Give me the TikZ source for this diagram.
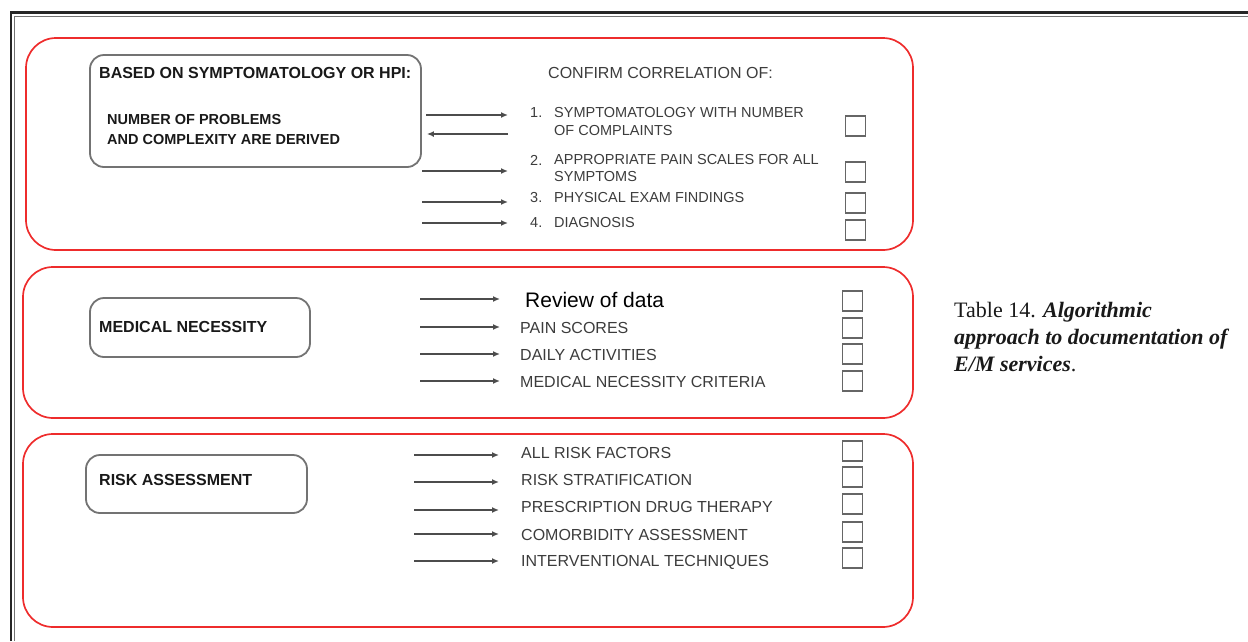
\documentclass[tikz,border=0pt]{standalone}
\usepackage{fontspec}
\setmainfont{Liberation Sans}
\newfontfamily\capserif{Liberation Serif}
\usepackage{xcolor}
\usepackage{tikz}
\usetikzlibrary{arrows.meta,positioning}

\definecolor{framered}{HTML}{EE2C2C}
\definecolor{inkgray}{HTML}{3C3C3C}

\tikzset{
  redbox/.style={draw=framered, line width=1.7pt, rounded corners=30pt},
  graybox/.style={draw=black!55, line width=1.8pt, rounded corners=14pt, inner sep=0pt},
  arr/.style={-{Latex[length=7pt,width=6pt]}, line width=1.8pt, draw=black!70},
  chk/.style={draw=black!60, line width=1.3pt, minimum width=20pt, minimum height=20pt, inner sep=0pt},
  lbl/.style={anchor=west, inner sep=0pt, text=black!90, font=\fontsize{16}{19}\selectfont\bfseries},
  listtxt/.style={anchor=west, inner sep=0pt, text=inkgray, font=\fontsize{16}{19}\selectfont},
  smalltxt/.style={listtxt, font=\fontsize{14.5}{18}\selectfont},
}

\begin{document}
\begin{tikzpicture}[x=1pt, y=-1pt]
  \useasboundingbox (0,0) rectangle (1248,641);
  % outer frame
  \draw[line width=2.2pt, black!85] (11,641) -- (11,12.5) -- (1248,12.5);
  \draw[line width=1.2pt, black!55] (14.5,641) -- (14.5,16.5) -- (1248,16.5);

  % block 1
  \draw[redbox] (26,38) rectangle (913,250);
  \node[graybox, minimum width=331pt, minimum height=112pt] (hpi) at (255.5,111) {};
  \node[lbl] (hpihead) at (99,73) {BASED ON SYMPTOMATOLOGY OR HPI:};
  \node[lbl, font=\fontsize{14.5}{20}\selectfont\bfseries, align=left] (hpibody) at (107,130)
    {NUMBER OF PROBLEMS\\AND COMPLEXITY ARE DERIVED};
  \node[listtxt] (confirm) at (548,73) {CONFIRM CORRELATION OF:};
  \node[smalltxt] (n1) at (530,113) {1.};
  \node[smalltxt] (n2) at (530,160) {2.};
  \node[smalltxt] (n3) at (530,198) {3.};
  \node[smalltxt] (n4) at (530,223) {4.};
  \node[smalltxt, align=left] (s1) at (554,122) {SYMPTOMATOLOGY WITH NUMBER\\OF COMPLAINTS};
  \node[smalltxt, align=left, font=\fontsize{14.5}{17}\selectfont] (s2) at (554,168.5) {APPROPRIATE PAIN SCALES FOR ALL\\SYMPTOMS};
  \node[smalltxt] (s3) at (554,198) {PHYSICAL EXAM FINDINGS};
  \node[smalltxt] (s4) at (554,223) {DIAGNOSIS};
  \node[chk] (c1) at (855.5,126) {};
  \node[chk] (c2) at (855.5,172) {};
  \node[chk] (c3) at (855.5,203) {};
  \node[chk] (c4) at (855.5,230) {};
  \coordinate (t1) at (426,115);
  \coordinate (r1) at (508,134);
  \coordinate (t2) at (422,171);
  \coordinate (t3) at (422,202);
  \coordinate (t4) at (422,223);
  \draw[arr, shorten >=22pt] (t1) -- (t1 -| n1.west);
  \draw[arr, shorten >=5pt] (r1) -- (r1 -| hpi.east);
  \draw[arr, shorten >=22pt] (t2) -- (t2 -| n2.west);
  \draw[arr, shorten >=22pt] (t3) -- (t3 -| n3.west);
  \draw[arr, shorten >=22pt] (t4) -- (t4 -| n4.west);

  % block 2
  \draw[redbox] (23,267) rectangle (913,418);
  \node[graybox, minimum width=220pt, minimum height=59pt] (need) at (200,327.5) {};
  \node[lbl] (needlbl) at (99,327) {MEDICAL NECESSITY};
  \node[listtxt, text=black, font=\fontsize{21}{24}\selectfont] (rev) at (525,300) {Review of data};
  \node[listtxt] (pain) at (520,328) {PAIN SCORES};
  \node[listtxt] (daily) at (520,355) {DAILY ACTIVITIES};
  \node[listtxt] (crit) at (520,382) {MEDICAL NECESSITY CRITERIA};
  \node[chk] (c5) at (852.5,301) {};
  \node[chk] (c6) at (852.5,328) {};
  \node[chk] (c7) at (852.5,354) {};
  \node[chk] (c8) at (852.5,381) {};
  \coordinate (t5) at (420,299);
  \coordinate (t6) at (420,327);
  \coordinate (t7) at (420,354);
  \coordinate (t8) at (420,381);
  \draw[arr, shorten >=25pt] (t5) -- (t5 -| rev.west);
  \draw[arr, shorten >=20pt] (t6) -- (t6 -| pain.west);
  \draw[arr, shorten >=20pt] (t7) -- (t7 -| daily.west);
  \draw[arr, shorten >=20pt] (t8) -- (t8 -| crit.west);

  % block 3
  \draw[redbox] (23,434) rectangle (913,627);
  \node[graybox, minimum width=221pt, minimum height=58pt] (risk) at (196.5,484) {};
  \node[lbl] (risklbl) at (99,480) {RISK ASSESSMENT};
  \node[listtxt] (fac) at (521,453) {ALL RISK FACTORS};
  \node[listtxt] (strat) at (521,480) {RISK STRATIFICATION};
  \node[listtxt] (drug) at (521,507) {PRESCRIPTION DRUG THERAPY};
  \node[listtxt] (comor) at (521,535) {COMORBIDITY ASSESSMENT};
  \node[listtxt] (interv) at (521,562) {INTERVENTIONAL TECHNIQUES};
  \node[chk] (c9) at (852.5,451) {};
  \node[chk] (c10) at (852.5,477) {};
  \node[chk] (c11) at (852.5,504) {};
  \node[chk] (c12) at (852.5,532) {};
  \node[chk] (c13) at (852.5,558) {};
  \coordinate (t9) at (414,455);
  \coordinate (t10) at (414,482);
  \coordinate (t11) at (414,510);
  \coordinate (t12) at (414,534);
  \coordinate (t13) at (414,561);
  \draw[arr, shorten >=22pt] (t9) -- (t9 -| fac.west);
  \draw[arr, shorten >=22pt] (t10) -- (t10 -| strat.west);
  \draw[arr, shorten >=22pt] (t11) -- (t11 -| drug.west);
  \draw[arr, shorten >=22pt] (t12) -- (t12 -| comor.west);
  \draw[arr, shorten >=22pt] (t13) -- (t13 -| interv.west);

  % caption
  \node[anchor=north west, inner sep=0pt, align=left, text=black!90,
        font=\capserif\fontsize{22}{27}\selectfont] (cap) at (954,302)
    {Table 14. \textbf{\textit{Algorithmic}}\\\textbf{\textit{approach to documentation of}}\\\textbf{\textit{E/M services}}.};
\end{tikzpicture}
\end{document}
